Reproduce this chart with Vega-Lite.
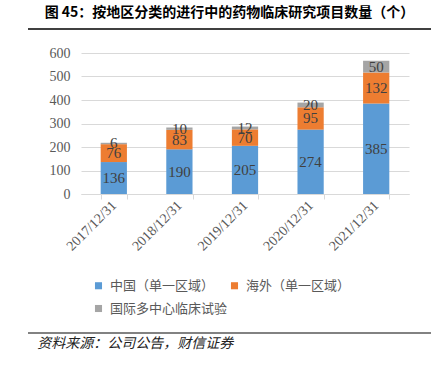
{
  "$schema": "https://vega.github.io/schema/vega-lite/v6.json",
  "padding": {"left": 27, "top": 6, "right": 10, "bottom": 0},
  "title": {
    "text": "图 45：按地区分类的进行中的药物临床研究项目数量（个）",
    "anchor": "middle",
    "fontSize": 14,
    "fontWeight": "bold",
    "font": "Noto Sans CJK SC",
    "color": "#000000",
    "offset": 8
  },
  "spacing": 16,
  "resolve": {"legend": {"color": "independent"}, "scale": {"color": "independent"}},
  "config": {
    "view": {"stroke": null},
    "axis": {"labelFont": "Liberation Serif", "labelColor": "#595959"}
  },
  "vconcat": [
    {
      "width": 328,
      "height": 1,
      "data": {"values": [{"a": 0, "b": 1, "c": 0}]},
      "mark": {"type": "rule", "color": "#404040", "strokeWidth": 2},
      "encoding": {
        "x": {"field": "a", "type": "quantitative", "scale": {"domain": [0, 1], "range": [-53, 350]}, "axis": null},
        "x2": {"field": "b"},
        "y": {"field": "c", "type": "quantitative", "scale": {"domain": [0, 1]}, "axis": null}
      }
    },
    {
      "width": 328,
      "height": 141,
      "data": {
        "values": [
          {"year": "2017/12/31", "region": "中国（单一区域）", "order": 1, "value": 136},
          {"year": "2017/12/31", "region": "海外（单一区域）", "order": 2, "value": 76},
          {"year": "2017/12/31", "region": "国际多中心临床试验", "order": 3, "value": 6},
          {"year": "2018/12/31", "region": "中国（单一区域）", "order": 1, "value": 190},
          {"year": "2018/12/31", "region": "海外（单一区域）", "order": 2, "value": 83},
          {"year": "2018/12/31", "region": "国际多中心临床试验", "order": 3, "value": 10},
          {"year": "2019/12/31", "region": "中国（单一区域）", "order": 1, "value": 205},
          {"year": "2019/12/31", "region": "海外（单一区域）", "order": 2, "value": 70},
          {"year": "2019/12/31", "region": "国际多中心临床试验", "order": 3, "value": 12},
          {"year": "2020/12/31", "region": "中国（单一区域）", "order": 1, "value": 274},
          {"year": "2020/12/31", "region": "海外（单一区域）", "order": 2, "value": 95},
          {"year": "2020/12/31", "region": "国际多中心临床试验", "order": 3, "value": 20},
          {"year": "2021/12/31", "region": "中国（单一区域）", "order": 1, "value": 385},
          {"year": "2021/12/31", "region": "海外（单一区域）", "order": 2, "value": 132},
          {"year": "2021/12/31", "region": "国际多中心临床试验", "order": 3, "value": 50}
        ]
      },
      "transform": [
        {"stack": "value", "groupby": ["year"], "sort": [{"field": "order"}], "as": ["v0", "v1"]},
        {"calculate": "(datum.v0 + datum.v1) / 2", "as": "mid"}
      ],
      "encoding": {
        "x": {
          "field": "year",
          "type": "nominal",
          "title": null,
          "scale": {"paddingInner": 0.6, "paddingOuter": 0.3},
          "axis": {
            "labelAngle": -45,
            "labelAlign": "right",
            "labelBaseline": "middle",
            "labelFontSize": 14,
            "labelPadding": 4,
            "tickBand": "extent",
            "tickSize": 5,
            "tickColor": "#d9d9d9",
            "domainColor": "#d9d9d9",
            "grid": false
          }
        },
        "y": {
          "field": "v0",
          "type": "quantitative",
          "title": null,
          "scale": {"domain": [0, 600], "nice": false},
          "axis": {
            "values": [0, 100, 200, 300, 400, 500, 600],
            "labelOverlap": false,
            "domain": false,
            "ticks": false,
            "labelPadding": 11,
            "labelFontSize": 14,
            "gridColor": "#d9d9d9"
          }
        }
      },
      "layer": [
        {
          "mark": {"type": "bar"},
          "encoding": {
            "y2": {"field": "v1"},
            "color": {
              "field": "region",
              "type": "nominal",
              "scale": {
                "domain": ["中国（单一区域）", "海外（单一区域）", "国际多中心临床试验"],
                "range": ["#5B9BD5", "#ED7D31", "#A5A5A5"]
              },
              "legend": {
                "orient": "none",
                "legendX": 11,
                "legendY": 226,
                "direction": "horizontal",
                "columns": 2,
                "columnPadding": 0,
                "rowPadding": 9,
                "symbolType": "square",
                "symbolSize": 50,
                "symbolStrokeWidth": 0,
                "labelFontSize": 13,
                "labelFont": "Noto Sans CJK SC",
                "labelColor": "#595959",
                "labelOffset": 5,
                "title": null
              }
            }
          }
        },
        {
          "mark": {"type": "text", "font": "Liberation Serif", "fontSize": 15, "color": "#404040", "baseline": "middle"},
          "encoding": {
            "y": {
              "field": "mid",
              "type": "quantitative",
              "title": null,
              "scale": {"domain": [0, 600], "nice": false},
              "axis": {
                "values": [0, 100, 200, 300, 400, 500, 600],
                "labelOverlap": false,
                "domain": false,
                "ticks": false,
                "labelPadding": 11,
                "labelFontSize": 14,
                "gridColor": "#d9d9d9"
              }
            },
            "text": {"field": "value", "type": "quantitative"}
          }
        }
      ]
    },
    {
      "width": 328,
      "height": 1,
      "data": {"values": [{"a": 0, "b": 1, "c": 0}]},
      "title": {
        "text": "资料来源：公司公告，财信证券",
        "orient": "bottom",
        "anchor": "start",
        "dx": 10,
        "offset": 3,
        "font": "Noto Sans CJK SC",
        "fontStyle": "italic",
        "fontWeight": "normal",
        "fontSize": 14,
        "color": "#222222"
      },
      "mark": {"type": "rule", "color": "#595959", "strokeWidth": 1.5},
      "encoding": {
        "x": {"field": "a", "type": "quantitative", "scale": {"domain": [0, 1], "range": [-53, 350]}, "axis": null},
        "x2": {"field": "b"},
        "y": {"field": "c", "type": "quantitative", "scale": {"domain": [0, 1]}, "axis": null}
      }
    }
  ]
}
